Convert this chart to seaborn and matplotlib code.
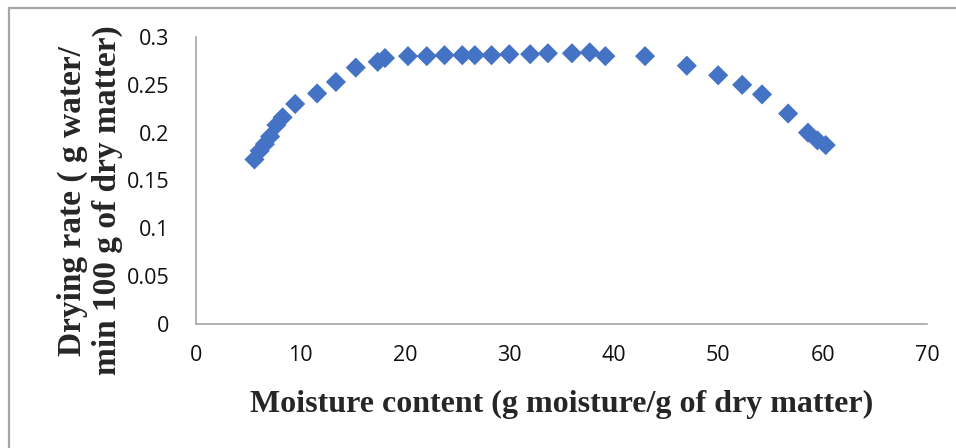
import matplotlib
matplotlib.use("Agg")
import matplotlib.pyplot as plt
import seaborn as sns
import pandas as pd
from matplotlib.patches import Rectangle

# Moisture content (g moisture / g dry matter) and drying rate readings
moisture = [5.6, 6.1, 6.6, 7.1, 7.7, 8.3, 9.5, 11.6, 13.4, 15.3, 17.4, 18.1,
            20.3, 22.1, 23.8, 25.5, 26.7, 28.3, 30.0, 32.0, 33.7, 36.0, 37.7,
            39.2, 43.0, 47.0, 50.0, 52.3, 54.2, 56.7, 58.6, 59.5, 60.3]
drying_rate = [0.172, 0.181, 0.188, 0.196, 0.208, 0.216, 0.230, 0.241, 0.253,
               0.268, 0.274, 0.278, 0.280, 0.280, 0.281, 0.281, 0.281, 0.281,
               0.282, 0.282, 0.283, 0.283, 0.284, 0.280, 0.280, 0.270, 0.260,
               0.250, 0.240, 0.220, 0.200, 0.192, 0.187]

x_ticks = [0, 10, 20, 30, 40, 50, 60, 70]
y_ticks = [0, 0.05, 0.1, 0.15, 0.2, 0.25, 0.3]
y_tick_labels = ["0", "0.05", "0.1", "0.15", "0.2", "0.25", "0.3"]

df = pd.DataFrame({"moisture": moisture, "rate": drying_rate})

sns.set_theme(style="white")
plt.rcParams["font.family"] = ["Open Sans", "DejaVu Sans"]

fig = plt.figure(figsize=(9.56, 4.48), dpi=100)
ax = fig.add_axes([0.205, 0.2768, 0.7647, 0.6406])

sns.scatterplot(data=df, x="moisture", y="rate", ax=ax, marker="D",
                s=105, color="#4472C4", edgecolor="none", linewidth=0)

ax.set_xlim(0, 70)
ax.set_ylim(0, 0.3)
ax.set_xticks(x_ticks)
ax.set_yticks(y_ticks)
ax.set_yticklabels(y_tick_labels)

for side in ("top", "right"):
    ax.spines[side].set_visible(False)
for side in ("left", "bottom"):
    ax.spines[side].set_color("#a6a6a6")
    ax.spines[side].set_linewidth(1.2)

ax.tick_params(axis="both", which="major", direction="out", length=6,
               width=1.2, color="#a6a6a6", labelsize=15.5, labelcolor="#111111")
ax.tick_params(axis="x", pad=9)
ax.tick_params(axis="y", pad=13)

serif = ["Liberation Serif", "DejaVu Serif"]
ax.set_xlabel("Moisture content (g moisture/g of dry matter)",
              fontsize=23, fontweight="bold", family=serif)
ax.set_ylabel("Drying rate ( g water/\nmin 100 g of dry matter)",
              fontsize=24, fontweight="bold", family=serif,
              linespacing=1.15)
ax.xaxis.set_label_coords(0.5, -0.23)
ax.yaxis.set_label_coords(-0.1, 0.43)

# Outer chart frame (top and left edges visible)
fig.patches.append(Rectangle((9 / 956, -0.1), 1.2, (448 - 8) / 448 + 0.1,
                             transform=fig.transFigure, fill=False,
                             edgecolor="#a6a6a6", linewidth=1.6))

fig.savefig("out.png", dpi=100)
